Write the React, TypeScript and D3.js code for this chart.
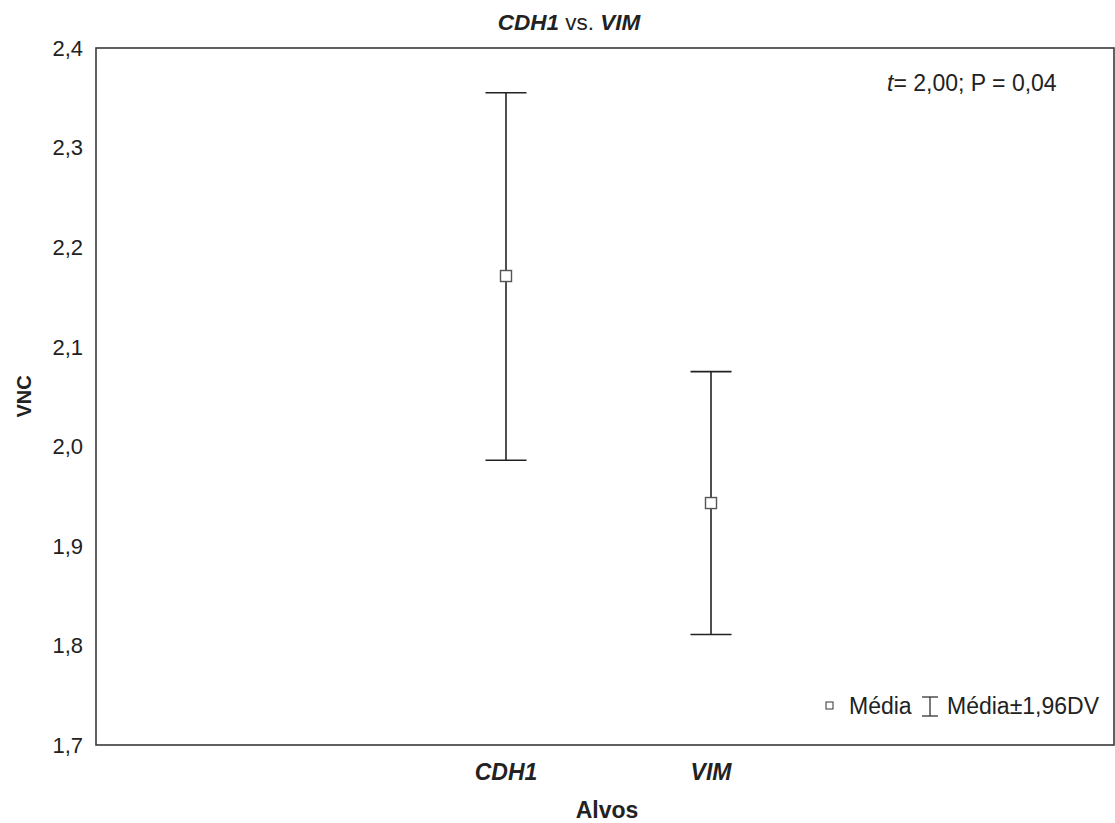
import React from "react";
import * as d3 from "d3";

const categories = ["CDH1", "VIM"];
const categoryPositions = [2, 3];
const means = [2.171, 1.943];
const upper = [2.355, 2.075];
const lower = [1.986, 1.811];
const yTicks = [1.7, 1.8, 1.9, 2.0, 2.1, 2.2, 2.3, 2.4];
const statText = "= 2,00; P = 0,04";

const W = 1115;
const H = 823;
const left = 96;
const right = 1114;
const top = 48;
const bottom = 745;
const font = "'Liberation Sans', Arial, sans-serif";
const tickFs = 22;
const fs = 23;

export default function App() {
  const y = d3.scaleLinear().domain([1.7, 2.4]).range([bottom, top]);
  const x = d3.scaleLinear().domain([0, 5]).range([left, left + 1025]);
  const fmt = (v: number) => d3.format(".1f")(v).replace(".", ",");
  const capHalf = 20.5;
  const sq = 11;

  return (
    <svg
      width={W}
      height={H}
      style={{ position: "absolute", left: 0, top: 0, background: "#fff" }}
      fontFamily={font}
    >
      {/* title */}
      <text x={569} y={30} fontSize={22.5} textAnchor="middle" fill="#222">
        <tspan fontWeight="bold" fontStyle="italic">CDH1</tspan>
        <tspan> vs. </tspan>
        <tspan fontWeight="bold" fontStyle="italic">VIM</tspan>
      </text>

      {/* frame */}
      <rect x={left} y={top} width={right - left} height={bottom - top} fill="none" stroke="#3a3a3a" strokeWidth={1.6} />

      {/* y tick labels */}
      {yTicks.map((t) => (
        <text key={t} x={83} y={y(t)} dy="0.36em" fontSize={tickFs} textAnchor="end" fill="#222">
          {fmt(t)}
        </text>
      ))}

      {/* axis titles */}
      <text
        transform={`translate(24,${(top + bottom) / 2}) rotate(-90)`}
        fontSize={20}
        fontWeight="bold"
        textAnchor="middle"
        dy="0.36em"
        fill="#222"
      >
        VNC
      </text>
      <text x={607} y={810} dy="0.36em" fontSize={fs} fontWeight="bold" textAnchor="middle" fill="#222">
        Alvos
      </text>

      {/* x category labels */}
      {categories.map((c, i) => (
        <text
          key={c}
          x={x(categoryPositions[i])}
          y={772}
          dy="0.36em"
          fontSize={fs}
          fontWeight="bold"
          fontStyle="italic"
          textAnchor="middle"
          fill="#222"
        >
          {c}
        </text>
      ))}

      {/* error bars and means */}
      {categories.map((c, i) => {
        const cx = x(categoryPositions[i]);
        return (
          <g key={c} stroke="#222" strokeWidth={1.6}>
            <line x1={cx} x2={cx} y1={y(upper[i])} y2={y(lower[i])} />
            <line x1={cx - capHalf} x2={cx + capHalf} y1={y(upper[i])} y2={y(upper[i])} />
            <line x1={cx - capHalf} x2={cx + capHalf} y1={y(lower[i])} y2={y(lower[i])} />
            <rect
              x={cx - sq / 2}
              y={y(means[i]) - sq / 2}
              width={sq}
              height={sq}
              fill="#fff"
              stroke="#555"
              strokeWidth={1.4}
            />
          </g>
        );
      })}

      {/* statistic */}
      <text x={887} y={83} dy="0.36em" fontSize={fs} fill="#222">
        <tspan fontStyle="italic">t</tspan>
        <tspan>{statText}</tspan>
      </text>

      {/* legend */}
      <g>
        <rect x={826} y={702} width={7} height={7} fill="#fff" stroke="#333" strokeWidth={1} />
        <text x={849} y={706} dy="0.36em" fontSize={fs} fill="#222">Média</text>
        <g stroke="#333" strokeWidth={1.3}>
          <line x1={930} x2={930} y1={697} y2={716} />
          <line x1={922} x2={938} y1={697} y2={697} />
          <line x1={922} x2={938} y1={716} y2={716} />
        </g>
        <text x={947} y={706} dy="0.36em" fontSize={fs} fill="#222">Média±1,96DV</text>
      </g>
    </svg>
  );
}
